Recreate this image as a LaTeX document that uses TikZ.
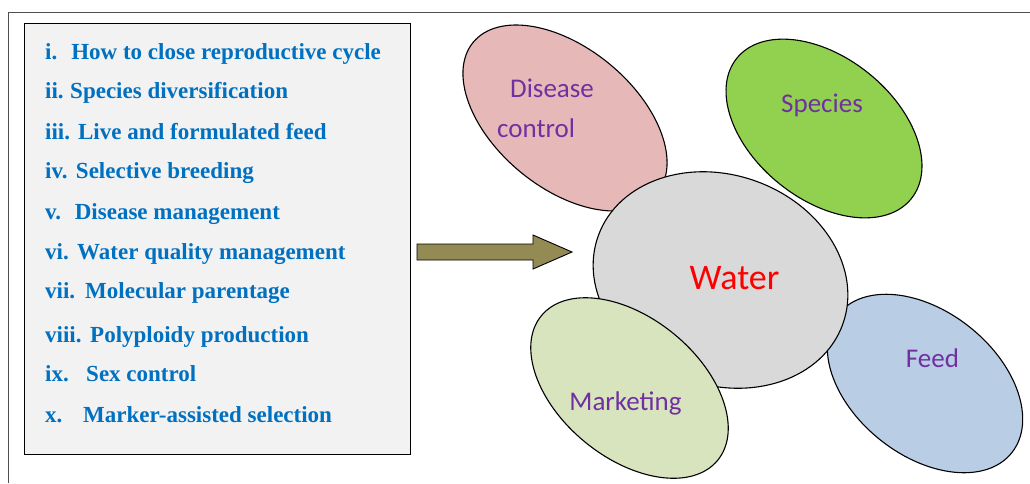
\documentclass[tikz,border=0pt]{standalone}
\usepackage{fontspec}
\setmainfont{Liberation Serif}
\newfontfamily\tagfont{Carlito}
\usetikzlibrary{shapes.geometric}

\definecolor{itemblue}{HTML}{0070C0}
\definecolor{boxgray}{HTML}{F2F2F2}
\definecolor{framegray}{HTML}{505050}
\definecolor{arrowolive}{HTML}{948A54}
\definecolor{diseasefill}{HTML}{E6B9B8}
\definecolor{speciesfill}{HTML}{92D050}
\definecolor{feedfill}{HTML}{B9CDE5}
\definecolor{waterfill}{HTML}{D9D9D9}
\definecolor{marketfill}{HTML}{D7E4BD}
\definecolor{tagpurple}{HTML}{7030A0}

\tikzset{
  item/.style={anchor=base west, inner sep=0pt, text=itemblue,
    font=\fontsize{23}{28}\selectfont\bfseries},
  blob/.style={ellipse, draw=black, line width=1.1pt, inner sep=0pt},
  tag/.style={inner sep=0pt, text=tagpurple, font=\tagfont\fontsize{27}{40}\selectfont}
}

\begin{document}
\begin{tikzpicture}[x=1pt,y=-1pt]
  \useasboundingbox (0,0) rectangle (1030,483);
  \draw[framegray, line width=0.8pt] (8,483) -- (8,12) -- (1030,12);
  % list of topics
  \node[draw, fill=boxgray, line width=1pt, inner sep=0pt, anchor=north west,
        minimum width=386pt, minimum height=431pt] (list) at (24,23) {};
  \node[item] (i1) at (45,59) {i.\hspace{14pt}How to close reproductive cycle};
  \node[item] (i2) at (45,98) {ii.\hspace{6.5pt}Species diversification};
  \node[item] (i3) at (45,139) {iii.\hspace{8pt}Live and formulated feed};
  \node[item] (i4) at (45,178) {iv.\hspace{8.4pt}Selective breeding};
  \node[item] (i5) at (45,219) {v.\hspace{13.7pt}Disease management};
  \node[item] (i6) at (45,259) {vi.\hspace{8.4pt}Water quality management};
  \node[item] (i7) at (45,298) {vii.\hspace{10pt}Molecular parentage};
  \node[item] (i8) at (45,342) {viii.\hspace{8.6pt}Polyploidy production};
  \node[item] (i9) at (45,381) {ix.\hspace{17.4pt}Sex control};
  \node[item] (i10) at (45,422) {x.\hspace{20.7pt}Marker-assisted selection};
  % block arrow
  \filldraw[fill=arrowolive, draw=black, line width=0.9pt]
    (417,244) -- (533,244) -- (533,235) -- (572,252) -- (533,269) -- (533,260) -- (417,260) -- cycle;
  % the five areas
  \node[blob, fill=diseasefill, minimum width=238pt, minimum height=140pt, rotate=-39.5] (disease) at (565,118) {};
  \node[blob, fill=speciesfill, minimum width=224pt, minimum height=142pt, rotate=-38.8] (species) at (824,128.5) {};
  \node[blob, fill=feedfill, minimum width=222pt, minimum height=144pt, rotate=-38.6] (feed) at (925,383.5) {};
  \node[blob, fill=waterfill, minimum width=260pt, minimum height=210pt, rotate=-20] (water) at (720.5,280) {};
  \node[blob, fill=marketfill, minimum width=228pt, minimum height=140pt, rotate=-39.3] (market) at (629.5,388) {};
  \node[tag, anchor=base west] (disease-1) at (510,97) {Disease};
  \node[tag, anchor=base west] (disease-2) at (497,137) {control};
  \node[tag, anchor=base] (species-t) at (822,112) {Species};
  \node[tag, anchor=base] (feed-t) at (932.5,367) {Feed};
  \node[tag, anchor=base] (market-t) at (625.5,410) {Marketing};
  \node[tag, anchor=base, text=red, font=\tagfont\fontsize{36}{40}\selectfont] (water-t) at (734.5,289) {Water};
\end{tikzpicture}
\end{document}
